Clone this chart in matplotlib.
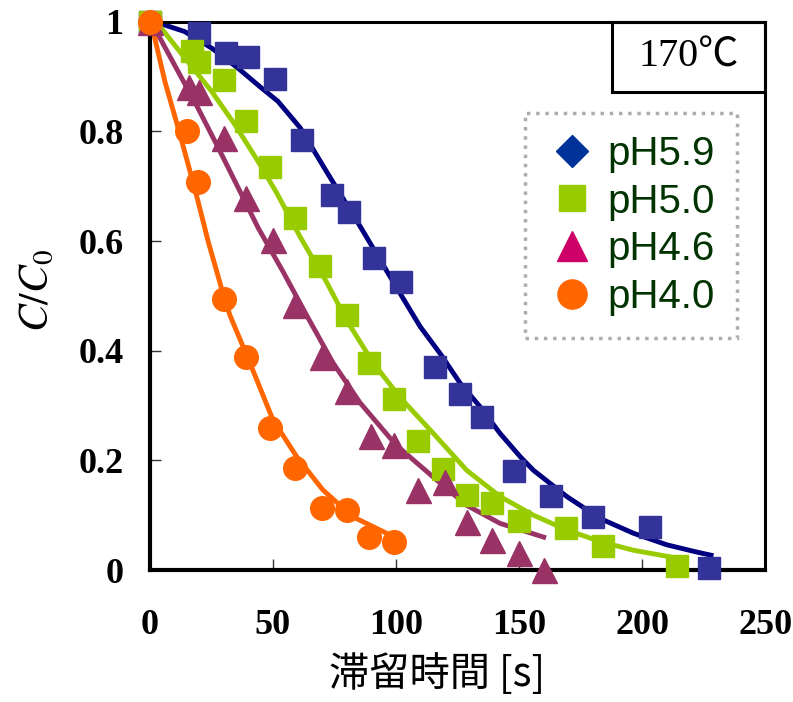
import matplotlib.pyplot as plt
from matplotlib.lines import Line2D
from matplotlib.patches import Rectangle

plt.rcParams['mathtext.fontset'] = 'stix'

# 測定データ (滞留時間 [s], C/C0)
t_59 = [0, 20, 31, 40, 51, 62, 74, 81, 91, 102, 116, 126, 135, 148, 163, 180, 203, 227]
c_59 = [1.0, 0.98, 0.943, 0.936, 0.896, 0.785, 0.684, 0.653, 0.569, 0.526, 0.370, 0.321, 0.279, 0.181, 0.135, 0.097, 0.078, 0.004]

t_50 = [0, 17, 20, 30, 39, 49, 59, 69, 80, 89, 99, 109, 119, 129, 139, 150, 169, 184, 214]
c_50 = [1.0, 0.947, 0.927, 0.894, 0.819, 0.735, 0.642, 0.555, 0.465, 0.378, 0.312, 0.235, 0.184, 0.137, 0.122, 0.089, 0.077, 0.044, 0.007]

t_46 = [0, 16, 20, 30, 39, 50, 59, 70, 80, 90, 99, 109, 120, 129, 139, 150, 160]
c_46 = [1.0, 0.881, 0.872, 0.788, 0.679, 0.602, 0.484, 0.388, 0.326, 0.245, 0.228, 0.146, 0.16, 0.088, 0.055, 0.031, 0.0]

t_40 = [0, 15, 19.5, 30, 39, 49, 59, 70, 80, 89, 99]
c_40 = [1.0, 0.80, 0.708, 0.495, 0.389, 0.259, 0.186, 0.113, 0.109, 0.06, 0.051]

# フィット曲線
ft_59 = [0, 3.4, 14.2, 25.1, 35.9, 45.4, 52, 61, 72, 85, 93.5, 101.6, 109.8, 117.9, 126, 134.1,
         142.3, 150.4, 155.8, 169.4, 182.9, 196.5, 210, 222.9, 228]
fc_59 = [1.0, 0.998, 0.982, 0.952, 0.915, 0.879, 0.855, 0.807, 0.725, 0.63, 0.566, 0.505, 0.444, 0.395,
         0.341, 0.298, 0.249, 0.207, 0.182, 0.134, 0.094, 0.067, 0.046, 0.032, 0.027]

ft_50 = [0, 4.7, 14.2, 25.1, 34.6, 44, 51.5, 61, 71.8, 80, 90.7, 101.6, 115.2, 128.7, 142.3, 155.8,
         169.4, 182.9, 196.5, 211.4]
fc_50 = [1.0, 0.988, 0.934, 0.873, 0.812, 0.745, 0.688, 0.608, 0.525, 0.455, 0.378, 0.315, 0.249,
         0.182, 0.134, 0.1, 0.073, 0.052, 0.036, 0.024]

ft_46 = [0, 3.4, 11.5, 19.6, 27.8, 35.9, 44, 54, 64, 74.4, 85.4, 100, 115, 128.7, 142.3, 160]
fc_46 = [1.0, 0.976, 0.909, 0.842, 0.77, 0.697, 0.624, 0.545, 0.462, 0.378, 0.305, 0.228, 0.17,
         0.118, 0.085, 0.06]

ft_40 = [0, 0.7, 6.1, 11.5, 15.6, 19.6, 23.7, 29.1, 32.5, 40.7, 50, 59.6, 70.3, 82.5, 96.2]
fc_40 = [1.0, 0.995, 0.891, 0.806, 0.739, 0.672, 0.599, 0.514, 0.465, 0.377, 0.274, 0.207, 0.146,
         0.097, 0.067]

labels = ['pH5.9', 'pH5.0', 'pH4.6', 'pH4.0']
xticks = [0, 50, 100, 150, 200, 250]
yticks = [0, 0.2, 0.4, 0.6, 0.8, 1]
yticklabels = ['0', '0.2', '0.4', '0.6', '0.8', '1']

fig = plt.figure(figsize=(7.93, 7.02), dpi=100)
ax = fig.add_axes([0.189, 0.188, 0.776, 0.781])

# 曲線
ax.plot(ft_59, fc_59, color='#000080', lw=3.5, zorder=2, solid_joinstyle='round')
ax.plot(ft_50, fc_50, color='#99CC00', lw=3.5, zorder=2, solid_joinstyle='round')
ax.plot(ft_46, fc_46, color='#993366', lw=3.5, zorder=2, solid_joinstyle='round')
ax.plot(ft_40, fc_40, color='#FF6600', lw=3.5, zorder=2, solid_joinstyle='round')

# データ点
ax.plot(t_59, c_59, 's', color='#333399', ms=16, mec='#333399', clip_on=False, zorder=3)
ax.plot(t_50, c_50, 's', color='#99CC00', ms=16, mec='#99CC00', clip_on=False, zorder=3)
ax.plot(t_46, c_46, '^', color='#993366', ms=18, mec='#993366', clip_on=False, zorder=3)
ax.plot(t_40, c_40, 'o', color='#FF6600', ms=17, mec='#FF6600', clip_on=False, zorder=4)

ax.set_xlim(0, 250)
ax.set_ylim(0, 1)
ax.set_xticks(xticks)
ax.set_xticklabels([str(v) for v in xticks])
ax.set_yticks(yticks)
ax.set_yticklabels(yticklabels)

for lab in ax.get_xticklabels() + ax.get_yticklabels():
    lab.set_fontfamily('Liberation Serif')
    lab.set_fontweight('bold')
    lab.set_fontsize(26)
ax.tick_params(axis='x', direction='in', length=8, width=1, color='#333333', pad=28, top=False)
ax.tick_params(axis='y', direction='in', length=8, width=1, color='#333333', pad=19, right=False)

for side in ['left', 'bottom']:
    ax.spines[side].set_linewidth(3)
for side in ['top', 'right']:
    ax.spines[side].set_linewidth(2.2)

ax.set_xlabel('滞留時間 [s]', fontsize=29, family=['Noto Sans CJK JP', 'DejaVu Sans'])
ax.xaxis.set_label_coords(0.467, -0.152)
ax.set_ylabel('$C/C_0$', fontsize=30)
ax.yaxis.set_label_coords(-0.15, 0.51)

# 温度ボックス
ax.add_patch(Rectangle((0.751, 0.872), 0.249, 0.128, transform=ax.transAxes,
                       fill=False, lw=2.2, ec='black', clip_on=False, zorder=5))
ax.text(0.8755, 0.936, '170℃', transform=ax.transAxes, ha='center', va='center',
        fontsize=29, family=['Liberation Serif', 'Noto Sans CJK JP'])

# 凡例
handles = [
    Line2D([], [], ls='none', marker='D', color='#003399', ms=16),
    Line2D([], [], ls='none', marker='s', color='#99CC00', ms=19),
    Line2D([], [], ls='none', marker='^', color='#CC0066', ms=21),
    Line2D([], [], ls='none', marker='o', color='#FF6600', ms=21),
]
leg = ax.legend(handles, labels, loc='upper left', bbox_to_anchor=(0.61, 0.834),
                prop={'family': 'Liberation Sans', 'size': 29}, labelcolor='#003300',
                frameon=True, fancybox=False, handletextpad=0.3, labelspacing=0.24,
                borderpad=0.55, handlelength=1.2, borderaxespad=0)
fr = leg.get_frame()
fr.set_linestyle(':')
fr.set_edgecolor('#999999')
fr.set_linewidth(2.5)

fig.savefig('out.png', dpi=100)
